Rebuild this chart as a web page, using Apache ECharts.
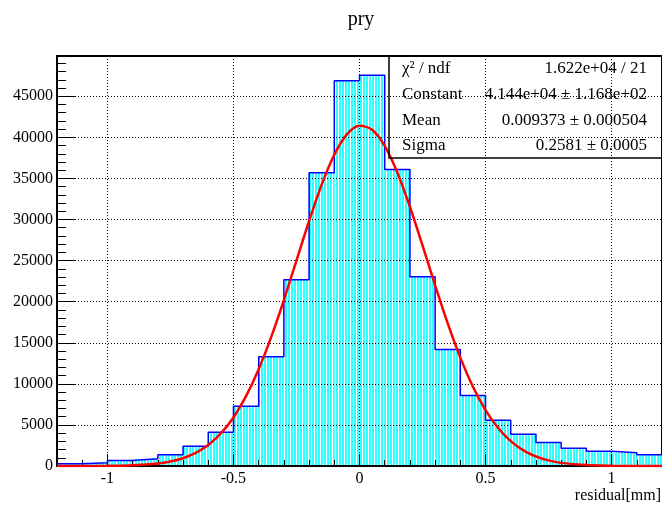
<!DOCTYPE html>
<html>
<head>
<meta charset="utf-8">
<script src="https://cdn.jsdelivr.net/npm/echarts@6/dist/echarts.min.js"></script>
<style>
  html, body { margin: 0; padding: 0; background: #fff; }
  #chart { width: 662px; height: 506px; }
</style>
</head>
<body>
<div id="chart"></div>
<script>
// histogram bin edges and contents
const binEdges = [-1.2, -1.1, -1.0, -0.9, -0.8, -0.7, -0.6, -0.5, -0.4, -0.3, -0.2, -0.1,
  0.0, 0.1, 0.2, 0.3, 0.4, 0.5, 0.6, 0.7, 0.8, 0.9, 1.0, 1.1, 1.2];
const counts = [270, 390, 670, 870, 1360, 2410, 4110, 7280, 13290, 22660, 35690, 46880,
  47570, 36090, 23030, 14180, 8580, 5570, 3870, 2860, 2170, 1800, 1610, 1360];

// gaus fit curve
const fitX = [-1.2, -1.1, -1.0, -0.9, -0.8, -0.75, -0.7, -0.65, -0.6, -0.55, -0.5, -0.45, -0.4,
  -0.35, -0.3, -0.25, -0.2, -0.15, -0.1, -0.05, 0, 0.05, 0.1, 0.15, 0.2, 0.25, 0.3, 0.35, 0.4,
  0.45, 0.5, 0.55, 0.6, 0.65, 0.7, 0.75, 0.8, 0.9, 1.0, 1.1, 1.2];
const fitY = [1, 4, 20, 84, 300, 550, 950, 1590, 2550, 3960, 5910, 8500, 11780,
  15720, 20200, 25010, 29820, 34250, 37880, 40360, 41410, 40930, 38970, 35730, 31550, 26840, 21990, 17350, 13190,
  9650, 6810, 4620, 3020, 1910, 1160, 680, 380, 110, 26, 5, 1];

// stats box
const statNames = ['χ² / ndf', 'Constant', 'Mean', 'Sigma'];
const statValues = ['1.622e+04 / 21', '4.144e+04 ± 1.168e+02', '0.009373 ± 0.000504', '0.2581 ± 0.0005'];

const yMax = 49900;
const serif = 'Liberation Serif, Times New Roman, serif';

// cyan hatch like root fill style
const hatchCanvas = document.createElement('canvas');
hatchCanvas.width = 3;
hatchCanvas.height = 1;
const hctx = hatchCanvas.getContext('2d');
hctx.fillStyle = '#ffffff';
hctx.fillRect(0, 0, 3, 1);
hctx.fillStyle = '#2cffff';
hctx.fillRect(0, 0, 2, 1);
const hatch = { image: hatchCanvas, repeat: 'repeat' };

const binData = counts.map((c, i) => [binEdges[i], binEdges[i + 1], c]);
const stepData = counts.map((c, i) => [binEdges[i], c]);
stepData.push([binEdges[binEdges.length - 1], counts[counts.length - 1]]);
const fitData = fitX.map((x, i) => [x, fitY[i]]);

const myChart = echarts.init(document.getElementById('chart'));

const statGraphics = [];
statNames.forEach((name, i) => {
  const y = 69 + i * 25.6;
  statGraphics.push({
    type: 'text', x: 402, y: y, z: 100,
    style: { text: name, font: '17px ' + serif, fill: '#000', textAlign: 'left', align: 'left',
      textVerticalAlign: 'middle', verticalAlign: 'middle' }
  });
  statGraphics.push({
    type: 'text', x: 647, y: y, z: 100,
    style: { text: statValues[i], font: '17px ' + serif, fill: '#000', textAlign: 'right', align: 'right',
      textVerticalAlign: 'middle', verticalAlign: 'middle' }
  });
});

const option = {
  animation: false,
  backgroundColor: '#fff',
  grid: {
    left: 57, right: 0, top: 56, bottom: 40,
    show: true, borderColor: '#000', borderWidth: 2, backgroundColor: 'transparent'
  },
  xAxis: [
    {
      type: 'value', min: -1.2, max: 1.2, splitNumber: 5, position: 'bottom', z: 3,
      axisLine: { show: true, onZero: false, lineStyle: { color: '#000', width: 2 } },
      axisTick: { show: true, inside: true, length: 12, lineStyle: { color: '#000', width: 1 } },
      axisLabel: { show: true, margin: 5, color: '#000', fontFamily: serif, fontSize: 16,
        showMinLabel: false, showMaxLabel: false, formatter: v => String(v) },
      splitLine: { show: true, lineStyle: { color: '#000', width: 1, type: [1, 2] } }
    },
    {
      type: 'value', min: -1.2, max: 1.2, interval: 0.1, position: 'bottom', z: 3,
      axisLine: { show: false, onZero: false },
      axisTick: { show: true, inside: true, length: 6, lineStyle: { color: '#000', width: 1 } },
      axisLabel: { show: false },
      splitLine: { show: false }
    }
  ],
  yAxis: [
    {
      type: 'value', min: 0, max: yMax, interval: 5000, position: 'left', z: 3,
      axisLine: { show: true, onZero: false, lineStyle: { color: '#000', width: 2 } },
      axisTick: { show: true, inside: true, length: 18, lineStyle: { color: '#000', width: 1 } },
      axisLabel: { show: true, margin: 4, color: '#000', fontFamily: serif, fontSize: 16,
        showMaxLabel: false, formatter: v => String(v) },
      splitLine: { show: true, lineStyle: { color: '#000', width: 1, type: [1, 2] } }
    },
    {
      type: 'value', min: 0, max: yMax, interval: 1000, position: 'left', z: 3,
      axisLine: { show: false, onZero: false },
      axisTick: { show: true, inside: true, length: 9, lineStyle: { color: '#000', width: 1 } },
      axisLabel: { show: false },
      splitLine: { show: false }
    }
  ],
  series: [
    {
      type: 'custom', z: 1, xAxisIndex: 0, yAxisIndex: 0,
      encode: { x: [0, 1], y: 2 },
      data: binData,
      renderItem: function (params, api) {
        const p0 = api.coord([api.value(0), api.value(2)]);
        const p1 = api.coord([api.value(1), 0]);
        return {
          type: 'rect',
          shape: { x: p0[0], y: p0[1], width: p1[0] - p0[0], height: p1[1] - p0[1] },
          style: { fill: hatch }
        };
      }
    },
    {
      type: 'line', z: 4, xAxisIndex: 0, yAxisIndex: 0,
      step: 'end', showSymbol: false, symbol: 'none',
      lineStyle: { color: '#0000ff', width: 1.5 },
      data: stepData
    },
    {
      type: 'line', z: 5, xAxisIndex: 0, yAxisIndex: 0,
      smooth: 0.3, showSymbol: false, symbol: 'none',
      lineStyle: { color: '#ff0000', width: 2.5 },
      data: fitData
    }
  ],
  graphic: [
    {
      type: 'text', x: 361, y: 20, z: 100,
      style: { text: 'pry', font: '20px ' + serif, fill: '#000', textAlign: 'center', align: 'center',
        textVerticalAlign: 'middle', verticalAlign: 'middle' }
    },
    {
      type: 'text', x: 661, y: 496, z: 100,
      style: { text: 'residual[mm]', font: '16px ' + serif, fill: '#000', textAlign: 'right', align: 'right',
        textVerticalAlign: 'middle', verticalAlign: 'middle' }
    },
    {
      type: 'rect', z: 99,
      shape: { x: 389, y: 56, width: 280, height: 102 },
      style: { fill: 'transparent', stroke: '#000', lineWidth: 1.5 }
    }
  ].concat(statGraphics)
};

// 绘制图表
myChart.setOption(option);
</script>
</body>
</html>
